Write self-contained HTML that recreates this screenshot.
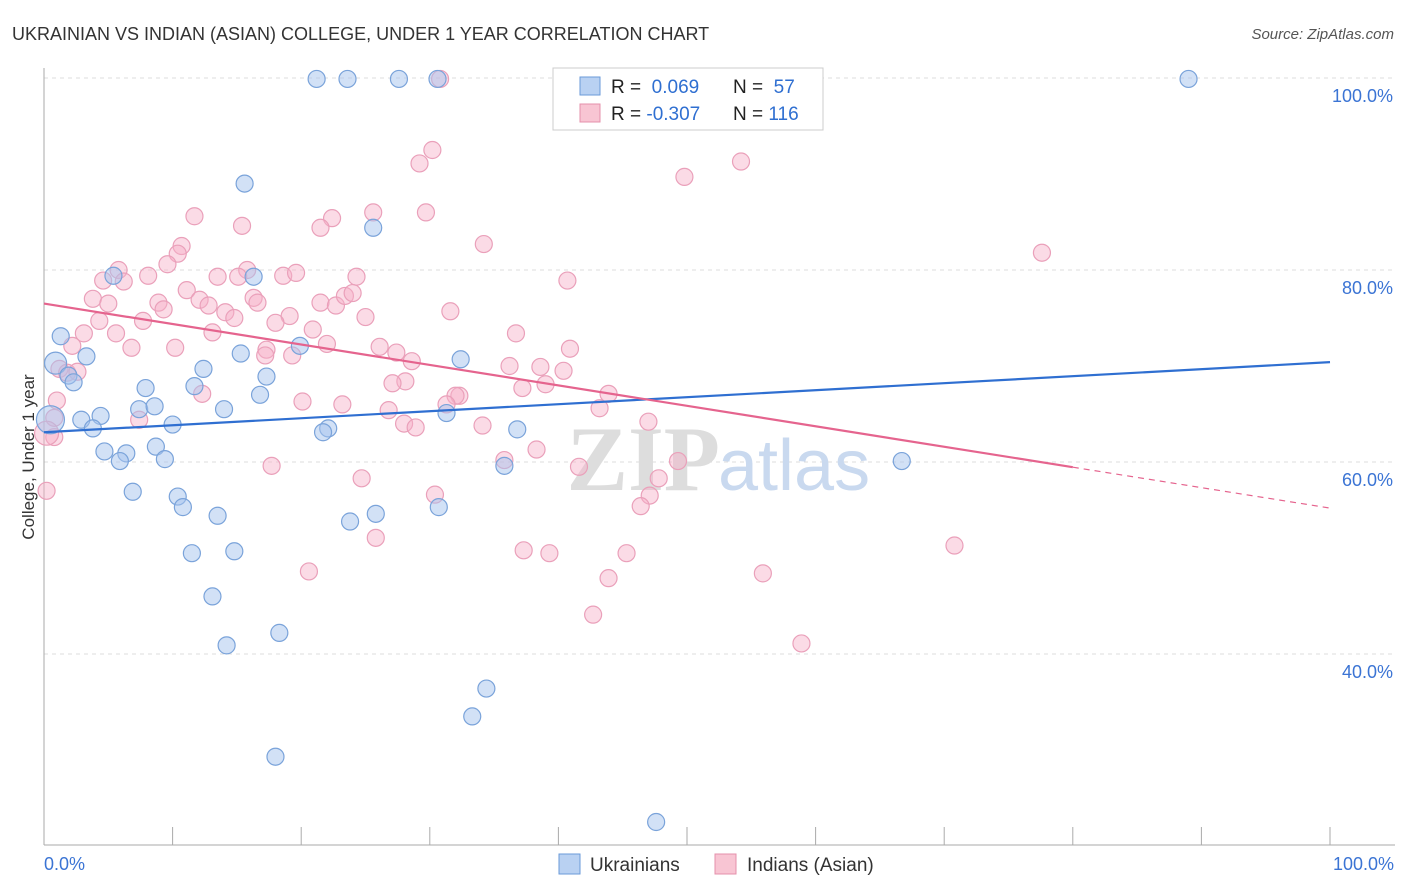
<!DOCTYPE html>
<html><head><meta charset="utf-8">
<style>
body{margin:0;background:#fff;font-family:"Liberation Sans",sans-serif;}
svg{display:block}
</style></head>
<body>
<svg id="chart" width="1406" height="892">
<text x="12" y="40" font-size="18" fill="#333">UKRAINIAN VS INDIAN (ASIAN) COLLEGE, UNDER 1 YEAR CORRELATION CHART</text>
<text x="1394" y="39" font-size="15" fill="#555" font-style="italic" text-anchor="end">Source: ZipAtlas.com</text>
<text x="34" y="457" font-size="17" fill="#333" text-anchor="middle" transform="rotate(-90 34 457)">College, Under 1 year</text>
<g id="grid"></g>
<text x="720" y="490" font-size="92" fill="#ddd" font-family="Liberation Serif,serif" font-weight="bold" text-anchor="end">ZIP</text>
<text x="718" y="490" font-size="72" fill="#c9d9ef" text-anchor="start">atlas</text>
<g id="pts"></g>
<g id="lines"></g>
<g>
<rect x="553" y="68" width="270" height="62" fill="#fff" stroke="#ccc"/>
<rect x="580" y="77" width="20" height="18" fill="#b9d1f2" stroke="#6a9ad8"/>
<rect x="580" y="104" width="20" height="18" fill="#f8c5d3" stroke="#e590ab"/>
<text x="611" y="93" font-size="19" fill="#222">R = <tspan fill="#2f6fd1">&#160;0.069</tspan><tspan x="733">N = </tspan><tspan fill="#2f6fd1">&#160;57</tspan></text>
<text x="611" y="120" font-size="19" fill="#222">R = <tspan fill="#2f6fd1">-0.307</tspan><tspan x="733">N = </tspan><tspan fill="#2f6fd1">116</tspan></text>
</g>
<g>
<rect x="559" y="854" width="21" height="20" fill="#b9d1f2" stroke="#6a9ad8"/>
<text x="590" y="871" font-size="19" fill="#333">Ukrainians</text>
<rect x="715" y="854" width="21" height="20" fill="#f8c5d3" stroke="#e590ab"/>
<text x="747" y="871" font-size="19" fill="#333">Indians (Asian)</text>
</g>
</svg>
<script>
const yTicks=[40,60,80,100];
const xTickLabels=["0.0%","100.0%"];
const blueX=[21.2,23.6,27.6,30.6,89.0,15.6,25.6,5.4,16.3,1.3,0.9,3.3,1.9,2.3,12.4,19.9,15.3,32.4,7.9,11.7,17.3,16.8,7.4,8.6,14.0,4.4,2.9,3.8,10.0,31.3,22.1,21.7,36.8,4.7,6.4,8.7,5.9,9.4,35.8,66.7,6.9,10.4,10.8,13.5,23.8,25.8,30.7,11.5,14.8,13.1,14.2,18.3,34.4,33.3,18.0,47.6,0.5];
const blueY=[99.9,99.9,99.9,99.9,99.9,89.0,84.4,79.4,79.3,73.1,70.3,71.0,69.0,68.3,69.7,72.1,71.3,70.7,67.7,67.9,68.9,67.0,65.5,65.8,65.5,64.8,64.4,63.5,63.9,65.1,63.5,63.1,63.4,61.1,60.9,61.6,60.1,60.3,59.6,60.1,56.9,56.4,55.3,54.4,53.8,54.6,55.3,50.5,50.7,46.0,40.9,42.2,36.4,33.5,29.3,22.5,64.4];
const pinkX=[30.8,46.1,30.2,29.2,54.2,49.8,11.7,15.4,22.4,21.5,25.6,29.7,10.7,10.4,9.6,34.2,77.6,5.8,8.1,13.5,15.8,15.1,18.6,19.6,24.3,40.7,6.2,4.6,3.8,5.0,8.9,11.1,12.1,12.8,16.3,16.6,21.5,22.7,23.4,24.0,9.3,14.1,14.8,19.1,7.7,4.3,25.0,31.6,18.0,3.1,5.6,13.1,20.9,36.7,2.2,6.8,10.2,17.3,22.0,26.1,27.4,17.2,19.3,28.6,40.9,36.2,38.6,40.4,1.2,1.8,2.6,28.1,27.1,37.2,39.0,12.3,32.3,32.0,43.9,1.0,20.1,23.2,31.3,43.2,26.8,7.4,28.0,28.9,34.1,47.0,0.8,38.3,35.8,49.3,41.6,17.7,24.7,47.8,30.4,47.1,46.4,25.8,37.3,39.3,45.3,70.8,20.6,43.9,55.9,42.7,58.9,0.2,0.8,0.2];
const pinkY=[99.9,97.0,92.5,91.1,91.3,89.7,85.6,84.6,85.4,84.4,86.0,86.0,82.5,81.7,80.6,82.7,81.8,80.0,79.4,79.3,80.0,79.3,79.4,79.7,79.3,78.9,78.8,78.9,77.0,76.5,76.6,77.9,76.9,76.3,77.1,76.6,76.6,76.3,77.3,77.6,75.9,75.6,75.0,75.2,74.7,74.7,75.1,75.7,74.5,73.4,73.4,73.5,73.8,73.4,72.1,71.9,71.9,71.7,72.3,72.0,71.4,71.1,71.1,70.5,71.8,70.0,69.9,69.5,69.7,69.3,69.4,68.4,68.2,67.7,68.1,67.1,66.9,66.9,67.1,66.4,66.3,66.0,66.0,65.6,65.4,64.4,64.0,63.6,63.8,64.2,62.6,61.3,60.2,60.1,59.5,59.6,58.3,58.3,56.6,56.5,55.4,52.1,50.8,50.5,50.5,51.3,48.6,47.9,48.4,44.1,41.1,57.0,64.6,63.0];
const blueTrend=[63.1,70.4];
const pinkTrend=[76.5,55.2];
const NS="http://www.w3.org/2000/svg";
const X=v=>44+v*12.86, Y=v=>1038-v*9.6;
function mk(t,a,p){const e=document.createElementNS(NS,t);for(const k in a)e.setAttribute(k,a[k]);p.appendChild(e);return e;}
const grid=document.getElementById('grid');
yTicks.forEach(t=>{
 const l=mk('line',{x1:44,x2:1395,y1:Y(t),y2:Y(t),stroke:'#ddd','stroke-dasharray':'4 4'},grid);
 
 
 const tx=mk('text',{x:1393,y:Y(t)+24,'font-size':18,fill:'#3b74d4','text-anchor':'end'},grid);
 tx.textContent=t.toFixed(1)+'%';
 
 
});
const ax=mk('line',{x1:44,x2:1395,y1:845,y2:845,stroke:'#aaa'},grid);


const ay=mk('line',{x1:44,x2:44,y1:68,y2:845,stroke:'#aaa'},grid);


for(let i=0;i<=10;i++){const t=mk('line',{x1:X(i*10),x2:X(i*10),y1:827,y2:845,stroke:'#aaa'},grid);
 
 }
[[0,'start',44],[100,'end',1394]].forEach((d,i)=>{const t=mk('text',{x:d[2],y:870,'font-size':18,fill:'#3b74d4','text-anchor':d[1]},grid);t.textContent=xTickLabels[i];
 
 });
const pts=document.getElementById('pts');
pinkX.forEach((x,i)=>{const big=(i===113);const c=mk('circle',{cx:X(x),cy:Y(pinkY[i]),r:big?12:8.5,fill:'rgba(246,176,199,0.45)',stroke:'#eaa0ba','stroke-width':1.2},pts);
 
 });
blueX.forEach((x,i)=>{const big=(i===56||i===10);const c=mk('circle',{cx:X(x),cy:Y(blueY[i]),r:i===56?14:(big?11:8.5),fill:'rgba(165,196,238,0.5)',stroke:'#7aa3da','stroke-width':1.2},pts);
 
 });
const lines=document.getElementById('lines');
const bl=mk('line',{x1:X(0),y1:Y(blueTrend[0]),x2:X(100),y2:Y(blueTrend[1]),stroke:'#2f6fd1','stroke-width':2.2},lines);


const pm=pinkTrend[0]+(pinkTrend[1]-pinkTrend[0])*0.8;
const pl=mk('line',{x1:X(0),y1:Y(pinkTrend[0]),x2:X(80),y2:Y(pm),stroke:'#e5648e','stroke-width':2.2},lines);


const pd=mk('line',{x1:X(80),y1:Y(pm),x2:X(100),y2:Y(pinkTrend[1]),stroke:'#e5648e','stroke-width':1.2,'stroke-dasharray':'6 5'},lines);


</script>
</body></html>
